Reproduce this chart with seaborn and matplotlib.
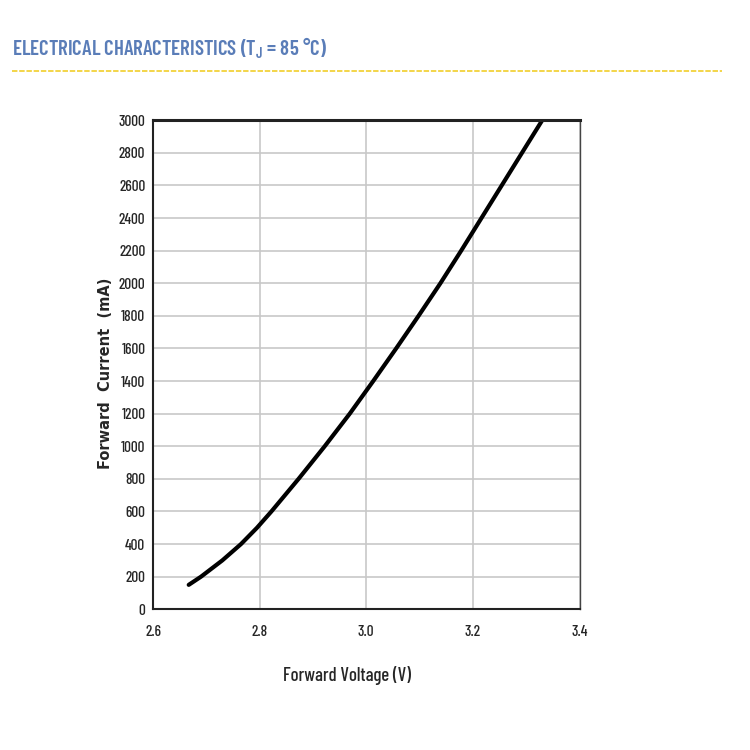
import matplotlib
matplotlib.use("Agg")
import matplotlib.pyplot as plt
import seaborn as sns
import pandas as pd
from matplotlib.lines import Line2D

voltage = [2.667, 2.690, 2.730, 2.765, 2.795, 2.822, 2.873, 2.922, 2.969, 3.013, 3.056, 3.098, 3.139, 3.178, 3.216, 3.254, 3.292, 3.330]
current = [150, 200, 300, 400, 500, 600, 800, 1000, 1200, 1400, 1600, 1800, 2000, 2200, 2400, 2600, 2800, 3000]
x_ticks = [2.6, 2.8, 3.0, 3.2, 3.4]
y_ticks = list(range(0, 3001, 200))

sns.set_theme(style="white")
narrow = ["Barlow Condensed", "DejaVu Sans"]

df = pd.DataFrame({"Forward Voltage (V)": voltage, "Forward Current (mA)": current})

fig = plt.figure(figsize=(7.5, 7.5), dpi=100)
ax = fig.add_axes([0.204, 0.1876, 0.5687, 0.652])
sns.lineplot(data=df, x="Forward Voltage (V)", y="Forward Current (mA)", ax=ax,
             color="black", linewidth=3, sort=False, solid_capstyle="round",
             solid_joinstyle="round")

ax.set_xlim(2.6, 3.4)
ax.set_ylim(0, 3000)
ax.set_xticks(x_ticks)
ax.set_xticklabels([f"{v:.1f}" for v in x_ticks], family=narrow, fontsize=11, fontweight="medium")
ax.set_yticks(y_ticks)
ax.set_yticklabels([str(v) for v in y_ticks], family=narrow, fontsize=11, fontweight="medium")
ax.grid(True, color="#c8c8c8", linewidth=1.2)
ax.set_axisbelow(True)
for s in ["left", "bottom", "top"]:
    ax.spines[s].set_color("#222222")
    ax.spines[s].set_linewidth(1.5)
ax.spines["top"].set_linewidth(2.2)
ax.spines["right"].set_color("#444444")
ax.spines["right"].set_linewidth(1.0)
ax.tick_params(axis="both", direction="out", length=3.5, width=1.2, color="#222222", pad=2)
ax.tick_params(axis="x", pad=8)

ax.set_xlabel("Forward Voltage (V)", family=narrow, fontsize=13.5, fontweight="medium")
ax.xaxis.set_label_coords(0.455, -0.115)
ax.set_ylabel("Forward  Current  (mA)", fontsize=10.5, fontweight="bold",
              family=["DejaVu Sans"])
ax.yaxis.set_label_coords(-0.094, 0.483)

fig.text(0.016, 0.926, "ELECTRICAL CHARACTERISTICS (T$_\\mathregular{J}$ = 85 °C)",
         family=narrow, fontsize=15, color="#5a7db8", fontweight="semibold")
fig.add_artist(Line2D([0.016, 0.962], [0.906, 0.906], transform=fig.transFigure,
                      color="#f2d23a", linewidth=1.3, linestyle=(0, (3, 1))))

fig.savefig("out.png", dpi=100)
